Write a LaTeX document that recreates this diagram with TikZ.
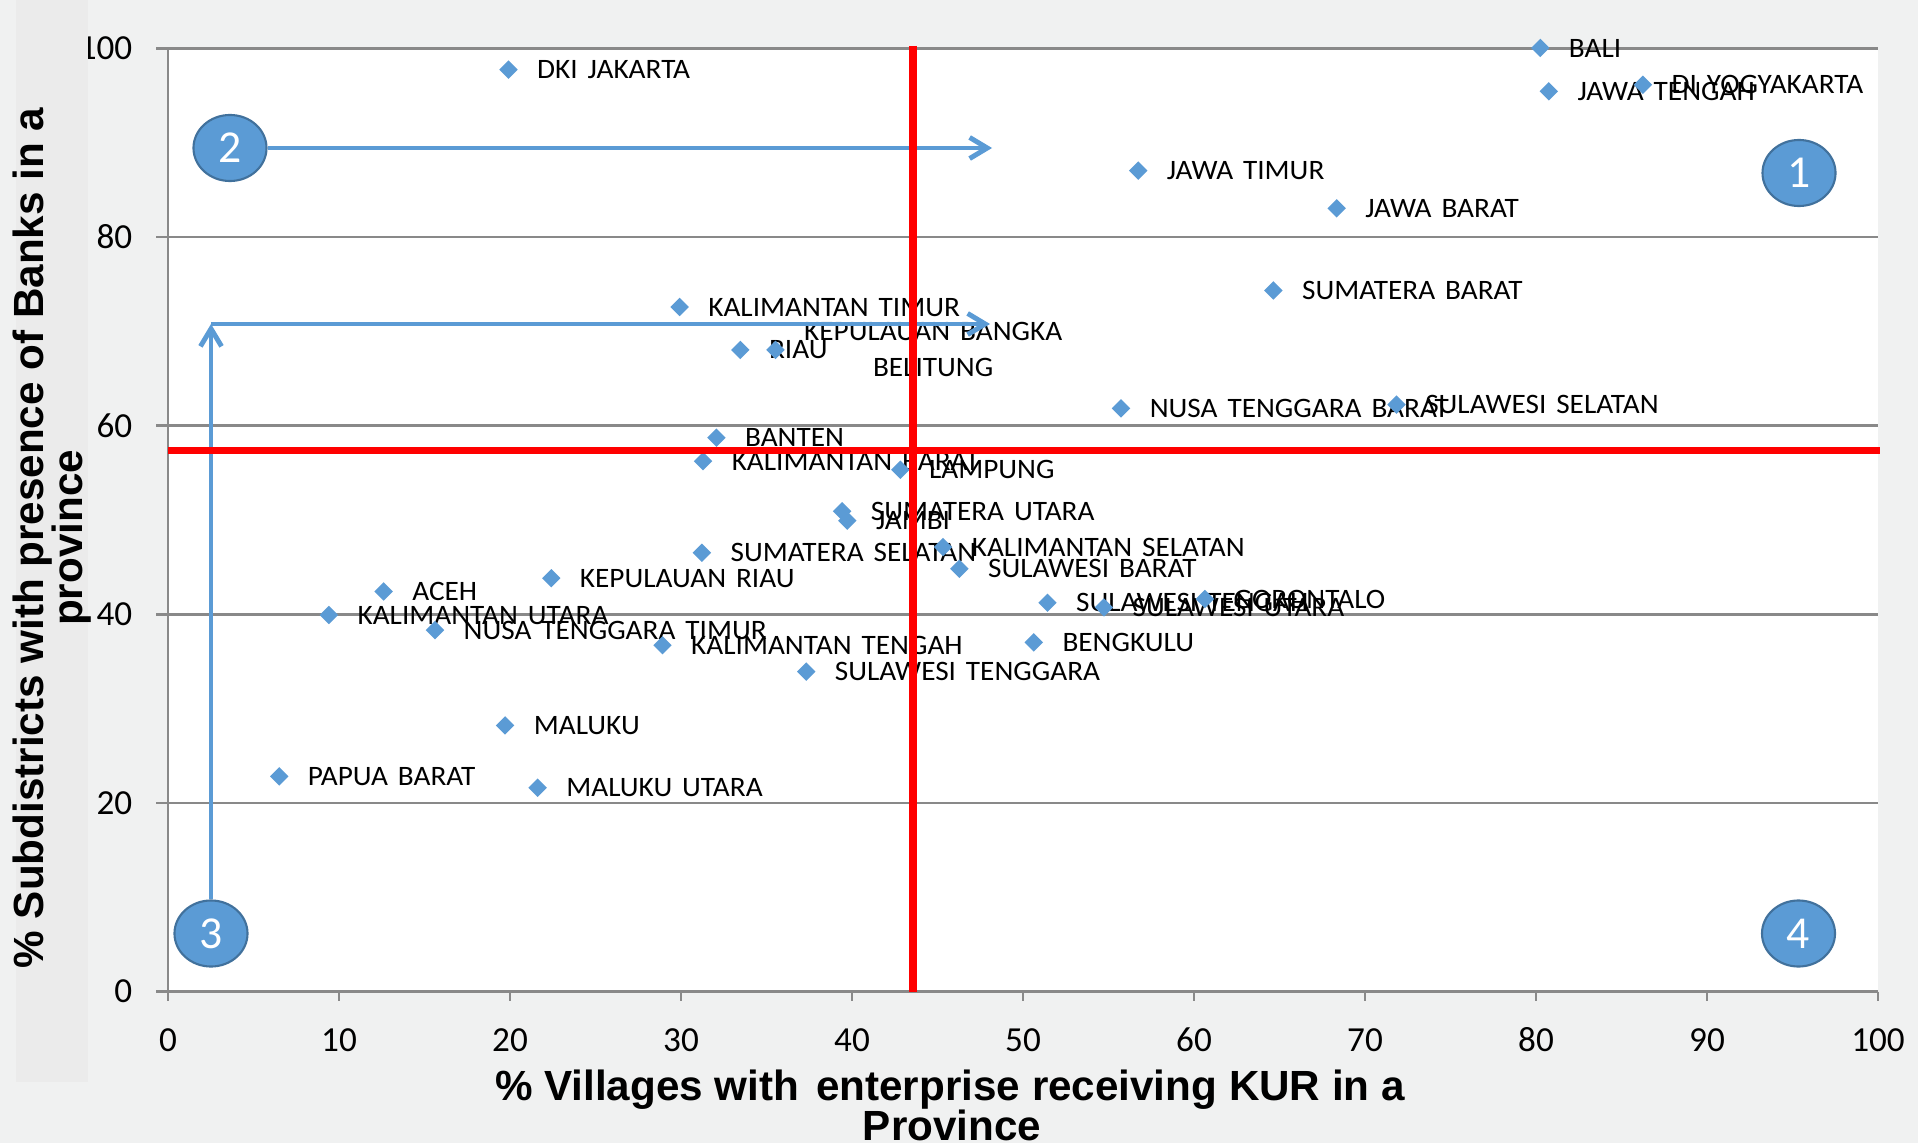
\documentclass[tikz,border=0pt]{standalone}
\usepackage{fontspec}
\setmainfont{Carlito}
\newfontfamily\lblfont{Carlito}[FakeStretch=1.04,WordSpace=1.5]
\newfontfamily\titlefont{Liberation Sans}
\usetikzlibrary{shapes.geometric,arrows.meta,calc}
\definecolor{ptblue}{RGB}{91,155,213}
\definecolor{cborder}{RGB}{65,113,156}
\definecolor{gridgray}{RGB}{137,137,137}
\definecolor{bggray}{RGB}{240,241,241}
\definecolor{stripgray}{RGB}{235,235,235}
\definecolor{redline}{RGB}{255,0,0}
\begin{document}
\begin{tikzpicture}[x=0.01cm,y=-0.01cm,
  mk/.style={diamond,fill=ptblue,inner sep=0pt,minimum width=0.19cm,minimum height=0.19cm},
  lbl/.style={anchor=west,inner sep=0pt,font=\lblfont\fontsize{8}{9.6}\selectfont,text height=5.15pt,text depth=0pt,xshift=0.28cm},
  gridln/.style={draw=gridgray,line width=0.7pt},
  ticklbl/.style={inner sep=0pt,font=\fontsize{10}{12}\selectfont},
  redl/.style={draw=redline,line width=2pt},
  barrow/.style={draw=ptblue,line width=1.4pt,-{Straight Barb[length=5pt,width=6pt]}},
  circ/.style={ellipse,fill=ptblue,draw=cborder,line width=0.6pt,minimum width=0.73cm,minimum height=0.66cm,inner sep=0pt,text=white,font=\fontsize{13}{15}\selectfont},
  axtitle/.style={inner sep=0pt,anchor=base,font=\titlefont\bfseries\fontsize{12}{14}\selectfont}
]
\useasboundingbox (0,0) rectangle (1918,1143);
\fill[bggray] (0,0) rectangle (1918,1143);
\fill[white] (168,48.5) rectangle (1878,991.5);

% grid and axes
\foreach \v in {20,40,...,100}
  \draw[gridln] (156,{991.5-9.43*\v}) -- (1878,{991.5-9.43*\v});
\draw[gridln] (156,991.5) -- (1878,991.5);
\draw[gridln] (168,48.5) -- (168,1001);
\foreach \v in {10,20,...,100}
  \draw[gridln] ({168+17.1*\v},991.5) -- ({168+17.1*\v},1001);

% tick labels
\foreach \v in {0,20,...,100}
  \node[ticklbl,anchor=east] (yt\v) at (133,{991.5-9.43*\v}) {\v};
\foreach \v in {0,10,...,100}
  \node[ticklbl] (xt\v) at ({168+17.1*\v},1040) {\v};

% left strip
\fill[stripgray] (16,0) rectangle (88,1082);

% axis titles
\node[axtitle] (xtitle1) at (950,1100) {\% Villages with\hspace{1.5pt} enterprise receiving KUR in a};
\node[axtitle] (xtitle2) at (952,1140) {Province};
\node[axtitle,rotate=90] (ytitle1) at (43,538) {\% Subdistricts with presence of Banks in a};
\node[axtitle,rotate=90] (ytitle2) at (82,538) {province};

% data
\begin{scope}[shift={(168,991.5)},x=0.171cm,y=0.0943cm]
\foreach \n/\x/\y/\t in {
  bali/80.2/100/BALI,
  jateng/80.7/95.4/JAWA TENGAH,
  diy/86.2/96.1/DI YOGYAKARTA,
  jatim/56.7/87.0/JAWA TIMUR,
  jabar/68.3/83.0/JAWA BARAT,
  sumbar/64.6/74.3/SUMATERA BARAT,
  ntb/55.7/61.8/NUSA TENGGARA BARAT,
  sulsel/71.8/62.2/SULAWESI SELATAN,
  dki/19.9/97.7/DKI JAKARTA,
  kaltim/29.9/72.55/KALIMANTAN TIMUR,
  riau/33.45/68.0/RIAU,
  banten/32.05/58.7/BANTEN,
  kalbar/31.27/56.2/KALIMANTAN BARAT,
  lampung/42.8/55.3/LAMPUNG,
  sumut/39.4/50.9/SUMATERA UTARA,
  jambi/39.7/49.9/JAMBI,
  sumsel/31.2/46.5/SUMATERA SELATAN,
  kalsel/45.3/47.1/KALIMANTAN SELATAN,
  sulbar/46.25/44.8/SULAWESI BARAT,
  kepri/22.4/43.8/KEPULAUAN RIAU,
  aceh/12.6/42.4/ACEH,
  kaltara/9.4/39.9/KALIMANTAN UTARA,
  ntt/15.6/38.3/NUSA TENGGARA TIMUR,
  kalteng/28.9/36.7/KALIMANTAN TENGAH,
  sultra/37.3/33.9/SULAWESI TENGGARA,
  sulteng/51.4/41.2/SULAWESI TENGAH,
  sulut/54.7/40.7/SULAWESI UTARA,
  gorontalo/60.6/41.6/GORONTALO,
  bengkulu/50.6/37.0/BENGKULU,
  maluku/19.7/28.2/MALUKU,
  pabar/6.5/22.8/PAPUA BARAT,
  malut/21.6/21.6/MALUKU UTARA}
  \node[lbl] (l-\n) at (\x,\y) {\t};
\node[anchor=west,inner sep=0pt,align=center,font=\lblfont\fontsize{8}{10.2}\selectfont,xshift=0.28cm] (l-kbb) at (35.5,68.0) {KEPULAUAN BANGKA\\BELITUNG};
\foreach \n/\x/\y in {
  bali/80.2/100, jateng/80.7/95.4, diy/86.2/96.1, jatim/56.7/87.0,
  jabar/68.3/83.0, sumbar/64.6/74.3, ntb/55.7/61.8, sulsel/71.8/62.2,
  dki/19.9/97.7, kaltim/29.9/72.55, riau/33.45/68.0, kbb/35.5/68.0,
  banten/32.05/58.7, kalbar/31.27/56.2, lampung/42.8/55.3, sumut/39.4/50.9,
  jambi/39.7/49.9, sumsel/31.2/46.5, kalsel/45.3/47.1, sulbar/46.25/44.8,
  kepri/22.4/43.8, aceh/12.6/42.4, kaltara/9.4/39.9, ntt/15.6/38.3,
  kalteng/28.9/36.7, sultra/37.3/33.9, sulteng/51.4/41.2, sulut/54.7/40.7,
  gorontalo/60.6/41.6, bengkulu/50.6/37.0, maluku/19.7/28.2, pabar/6.5/22.8,
  malut/21.6/21.6}
  \node[mk] (m-\n) at (\x,\y) {};
\end{scope}

% circles and arrows
\node[circ] (c1) at (1799,173) {1};
\node[circ] (c2) at (230,148) {2};
\node[circ] (c3) at (211,933.5) {3};
\node[circ] (c4) at (1798.5,933.5) {4};
\coordinate (t2) at (992,148);
\coordinate (k3) at (211,324);
\coordinate (t3) at (990,324);
\draw[barrow] (c2.east) -- (t2);
\draw[barrow] (c3.north) -- (k3);
\draw[barrow] (k3) -- (t3);

% red quadrant lines
\coordinate (rv1) at (913,46);
\coordinate (rv2) at (913,991.5);
\coordinate (rh1) at (168,450.7);
\coordinate (rh2) at (1880,450.7);
\draw[redl] (rv1) -- (rv2);
\draw[redl] (rh1) -- (rh2);
\end{tikzpicture}
\end{document}
